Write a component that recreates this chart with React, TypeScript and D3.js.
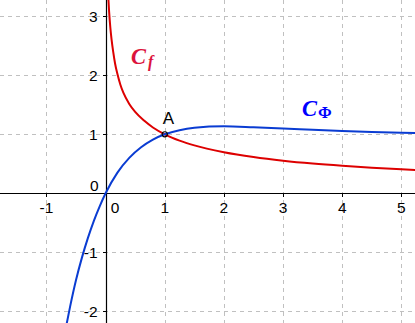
import React from "react";
import * as d3 from "d3";

const W = 415;
const H = 323;

// axis extents (data units)
const xDomain = [-1.785, 5.23];
const yDomain = [-2.198, 3.276];

const xGrid = [-1, 1, 2, 3, 4, 5];
const yGrid = [-2, -1, 1, 2, 3];
const xTickLabels = ["-1", "1", "2", "3", "4", "5"];
const yTickLabels = ["-2", "-1", "1", "2", "3"];

// Curve C_f (red)
const fX = [0.045, 0.06, 0.08, 0.1, 0.13, 0.16, 0.2, 0.25, 0.3, 0.4, 0.5, 0.65, 0.8, 1, 1.25, 1.5, 2, 2.5, 3, 3.5, 4, 4.5, 5, 5.3];
const fY = [3.33, 3.07, 2.81, 2.613, 2.387, 2.2, 2.02, 1.84, 1.705, 1.515, 1.38, 1.232, 1.116, 1, 0.893, 0.812, 0.697, 0.615, 0.553, 0.505, 0.467, 0.435, 0.407, 0.393];

// Curve C_Phi (blue)
const phiX = [-0.68, -0.6, -0.5, -0.4, -0.3, -0.2, -0.1, 0, 0.2, 0.4, 0.6, 0.8, 1, 1.25, 1.5, 2, 2.5, 3, 3.5, 4, 4.5, 5, 5.5];
const phiY = [-2.32, -1.92, -1.47, -1.09, -0.76, -0.47, -0.22, 0, 0.35, 0.6, 0.78, 0.91, 1, 1.07, 1.11, 1.135, 1.12, 1.1, 1.076, 1.055, 1.039, 1.027, 1.018];

const pointA = { x: 1, y: 1, label: "A" };

export default function App() {
  const x = d3.scaleLinear().domain(xDomain).range([0, W]);
  const y = d3.scaleLinear().domain(yDomain).range([H, 0]);

  const line = d3
    .line<[number, number]>()
    .x((d) => x(d[0]))
    .y((d) => y(d[1]))
    .curve(d3.curveMonotoneX);

  const fPts: [number, number][] = fX.map((v, i) => [v, fY[i]]);
  const phiPts: [number, number][] = phiX.map((v, i) => [v, phiY[i]]);

  const x0 = x(0);
  const y0 = y(0);
  const gridColor = "#c0c0c0";
  const font = "'Liberation Sans', Arial, sans-serif";
  const serif = "'Liberation Serif', 'Times New Roman', serif";

  return (
    <svg
      width={W}
      height={H}
      style={{ position: "absolute", left: 0, top: 0, background: "#fff" }}
    >
      <rect x={0} y={0} width={W} height={H} fill="#fff" />
      {/* grid */}
      {xGrid.map((v) => (
        <line
          key={"gx" + v}
          x1={Math.round(x(v)) + 0.5}
          x2={Math.round(x(v)) + 0.5}
          y1={0}
          y2={H}
          stroke={gridColor}
          strokeWidth={1}
          strokeDasharray="4,4"
        />
      ))}
      {yGrid.map((v) => (
        <line
          key={"gy" + v}
          x1={0}
          x2={W}
          y1={Math.round(y(v)) + 0.5}
          y2={Math.round(y(v)) + 0.5}
          stroke={gridColor}
          strokeWidth={1}
          strokeDasharray="4,4"
        />
      ))}
      {/* axes */}
      <line x1={0} x2={W} y1={Math.round(y0) + 0.5} y2={Math.round(y0) + 0.5} stroke="#000" strokeWidth={1.2} />
      <line x1={Math.round(x0) + 0.5} x2={Math.round(x0) + 0.5} y1={0} y2={H} stroke="#000" strokeWidth={1.2} />
      {/* ticks */}
      {xGrid.map((v) => (
        <line
          key={"tx" + v}
          x1={Math.round(x(v)) + 0.5}
          x2={Math.round(x(v)) + 0.5}
          y1={Math.round(y0)}
          y2={Math.round(y0) + 4}
          stroke="#000"
        />
      ))}
      {yGrid.map((v) => (
        <line
          key={"ty" + v}
          x1={Math.round(x0) - 3}
          x2={Math.round(x0) + 1}
          y1={Math.round(y(v)) + 0.5}
          y2={Math.round(y(v)) + 0.5}
          stroke="#000"
        />
      ))}
      {/* tick labels */}
      {xGrid.map((v, i) => (
        <text
          key={"lx" + v}
          x={x(v)}
          y={y0 + 19.5}
          textAnchor="middle"
          fontFamily={font}
          fontSize={15.5}
          fill="#000"
        >
          {xTickLabels[i]}
        </text>
      ))}
      {yGrid.map((v, i) => (
        <text
          key={"ly" + v}
          x={x0 - 8}
          y={y(v) + 5.5}
          textAnchor="end"
          fontFamily={font}
          fontSize={15.5}
          fill="#000"
        >
          {yTickLabels[i]}
        </text>
      ))}
      <text x={x0 + 9.5} y={y0 + 19.5} textAnchor="middle" fontFamily={font} fontSize={15.5}>
        0
      </text>
      <text x={x0 - 7} y={y0 - 2.5} textAnchor="end" fontFamily={font} fontSize={15.5}>
        0
      </text>
      {/* curves */}
      <path d={line(fPts) || ""} fill="none" stroke="#dd0000" strokeWidth={2} />
      <path d={line(phiPts) || ""} fill="none" stroke="#0a3cd2" strokeWidth={2} />
      {/* point A */}
      <circle cx={x(pointA.x)} cy={y(pointA.y)} r={2.6} fill="none" stroke="#000" strokeWidth={1.1} />
      <text x={x(pointA.x) - 2} y={y(pointA.y) - 10.3} fontFamily={font} fontSize={17} fill="#000">
        {pointA.label}
      </text>
      {/* curve labels */}
      <text
        x={131}
        y={63.5}
        fill="#dc143c"
        fontFamily={serif}
        fontStyle="italic"
        fontWeight="bold"
        fontSize={22.5}
      >
        C
        <tspan dx={2} dy={3} fontSize={16}>
          f
        </tspan>
      </text>
      <text
        x={302}
        y={115.5}
        fill="#0000ff"
        fontFamily={serif}
        fontStyle="italic"
        fontWeight="bold"
        fontSize={22.5}
      >
        C
        <tspan dx={1} dy={2} fontSize={16.5} fontStyle="normal">
          Φ
        </tspan>
      </text>
    </svg>
  );
}
